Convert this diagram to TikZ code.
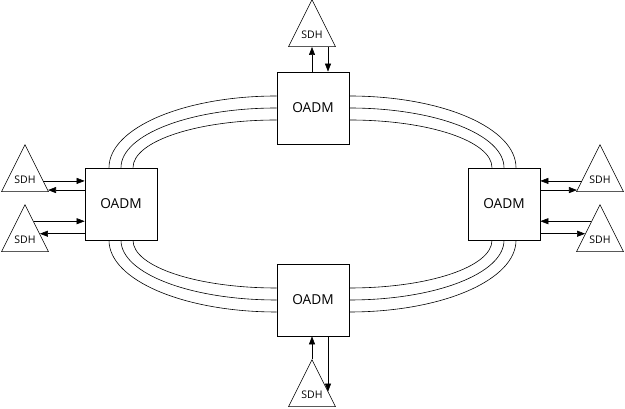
\documentclass[tikz,border=0pt]{standalone}
\usepackage{fontspec}
\setmainfont{Open Sans}
\usepackage{tikz}
\usetikzlibrary{shapes.geometric,arrows.meta,calc}

\begin{document}
\begin{tikzpicture}[x=1pt,y=1pt,
  oadm/.style={draw,line width=0.7pt,minimum width=72pt,minimum height=72pt,inner sep=0pt,
    font=\fontsize{13.7}{16}\selectfont},
  sdh/.style={draw,line width=0.6pt,isosceles triangle,isosceles triangle stretches,
    shape border rotate=90,minimum width=47pt,minimum height=47pt,inner sep=0pt,anchor=south,
    label={[sdhlabel]south:SDH}},
  sdhlabel/.style={anchor=base,yshift=8pt,font=\fontsize{10.5}{12}\selectfont},
  link/.style={line width=0.6pt,-{Triangle[length=8pt,width=6pt]}},
  fibre/.style={line width=0.6pt}]
  \useasboundingbox (0,0) rectangle (625,409);
  % multiplexers
  \node[oadm] (L) at (121,205) {OADM};
  \node[oadm] (R) at (504,205) {OADM};
  \node[oadm] (T) at (313,301) {OADM};
  \node[oadm] (B) at (313,109) {OADM};
  % terminals
  \node[sdh] (ST) at (312,362) {};
  \node[sdh] (SB) at (312,2) {};
  \node[sdh] (S1) at (25,217) {};
  \node[sdh] (S2) at (25,157) {};
  \node[sdh] (S3) at (600,217) {};
  \node[sdh] (S4) at (600,157) {};
  % ring
  \foreach \d/\a/\b in {-12/72/168, 0/60/156, 12/48/144}{
    \draw[fibre] ([xshift=\d pt]L.north) .. controls +(0,{0.552*\a}) and +({-0.552*\b},0) .. ([yshift=-\d pt]T.west);
    \draw[fibre] ([yshift=-\d pt]T.east) .. controls +({0.552*\b},0) and +(0,{0.552*\a}) .. ([xshift=-\d pt]R.north);
    \draw[fibre] ([xshift=\d pt]L.south) .. controls +(0,{-0.552*\a}) and +({-0.552*\b},0) .. ([yshift=\d pt]B.west);
    \draw[fibre] ([yshift=\d pt]B.east) .. controls +({0.552*\b},0) and +(0,{-0.552*\a}) .. ([xshift=-\d pt]R.south);
  }
  % add/drop
  \draw[link] ([xshift=-1pt]T.north) -- ([xshift=-1pt]T.north |- ST.south);
  \draw[link] ([xshift=15pt]T.north |- ST.south) -- ([xshift=15pt]T.north);
  \coordinate (sb in) at ($(SB.apex)!.68!(SB.right corner)$);
  \draw[link] (SB.apex) -- (SB.apex |- B.south);
  \draw[link] ([xshift=15pt]B.south) -- ([xshift=15pt]B.south |- sb in);
  \coordinate (s1 out) at ($(S1.apex)!.77!(S1.right corner)$);
  \coordinate (s1 in) at ($(S1.apex)!.96!(S1.right corner)$);
  \coordinate (s2 out) at ($(S2.apex)!.36!(S2.right corner)$);
  \coordinate (s2 in) at ($(S2.apex)!.62!(S2.right corner)$);
  \draw[link] (s1 out) -- (s1 out -| L.west);
  \draw[link] (s1 in -| L.west) -- (s1 in);
  \draw[link] (s2 out) -- (s2 out -| L.west);
  \draw[link] (s2 in -| L.west) -- (s2 in);
  \coordinate (s3 out) at ($(S3.apex)!.77!(S3.left corner)$);
  \coordinate (s3 in) at ($(S3.apex)!.96!(S3.left corner)$);
  \coordinate (s4 out) at ($(S4.apex)!.36!(S4.left corner)$);
  \coordinate (s4 in) at ($(S4.apex)!.62!(S4.left corner)$);
  \draw[link] (s3 out) -- (s3 out -| R.east);
  \draw[link] (s3 in -| R.east) -- (s3 in);
  \draw[link] (s4 out) -- (s4 out -| R.east);
  \draw[link] (s4 in -| R.east) -- (s4 in);
\end{tikzpicture}
\end{document}
